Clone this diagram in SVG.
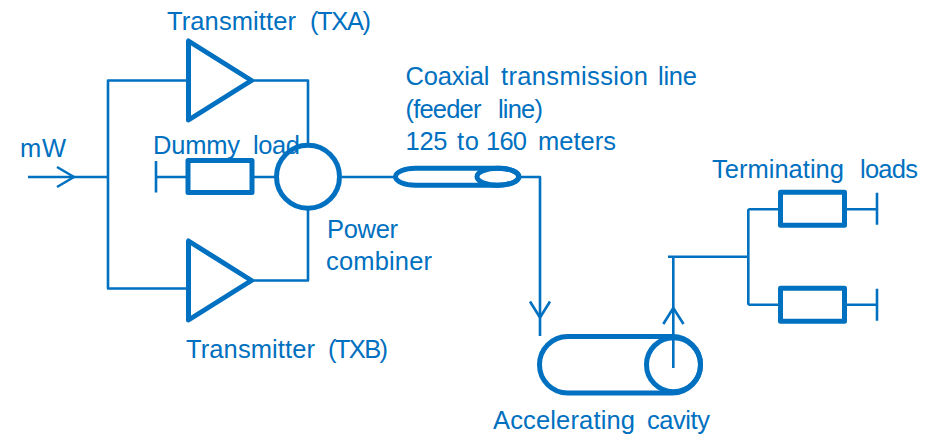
<svg xmlns="http://www.w3.org/2000/svg" width="927" height="435" viewBox="0 0 927 435">
<style>
text{font-family:"Liberation Sans",Arial,sans-serif;font-size:25.5px;fill:#0070C0}
.w{fill:none;stroke:#0070C0;stroke-width:2.6;stroke-linejoin:round}
.b{fill:none;stroke:#0070C0;stroke-width:5;stroke-linejoin:round}
</style>
<rect width="927" height="435" fill="#fff"/>
<g id="connectors">
<path class="w" d="M28 177H108M108 177V80.5H188M108 177V288.5H188"/>
<path class="w" d="M57 167L74 177L57 187"/>
<path class="w" d="M252 80.5H308V143M252 280.5H308V210"/>
<path class="w" d="M156 161V192.5M156 177H188M254 177H276"/>
<path class="w" d="M342 177H394M520 177H540V336"/>
<path class="w" d="M530 301.5L540 317.5L550 301.5"/>
<path class="w" d="M673.3 368V256.7M668 256.7H748.3M748.3 209.3V304.7M748.3 209.3H779M748.3 304.7H779"/>
<path class="w" d="M663.3 324L673.3 308L683.5 324"/>
<path class="w" d="M846 209.3H877M877 192.7V224.7M846 304.7H877M877 288.7V320.7"/>
</g>
<g id="txa"><path class="b" d="M188.5 41V120L251.5 80.5Z"/><text x="167" y="30" textLength="129">Transmitter</text><text x="310" y="30" textLength="61">(TXA)</text></g>
<g id="txb"><path class="b" d="M188.5 241V320L251.5 280.5Z"/><text x="186" y="357.5" textLength="129">Transmitter</text><text x="328" y="357.5" textLength="60">(TXB)</text></g>
<g id="dummy-load"><rect class="b" x="188" y="160.5" width="64" height="32"/><text x="153" y="154" textLength="87">Dummy</text><text x="253" y="154" textLength="47">load</text></g>
<g id="power-combiner"><circle class="b" cx="308" cy="176.7" r="31.5"/><text x="327" y="237.5" textLength="71">Power</text><text x="326" y="269.5" textLength="106">combiner</text></g>
<g id="coax"><rect class="b" x="395.5" y="168.2" width="123" height="17" rx="20" ry="8.5"/><ellipse class="b" cx="498" cy="176.7" rx="21" ry="8.5"/>
<text x="405.5" y="85" textLength="84">Coaxial</text><text x="501" y="85" textLength="147">transmission</text><text x="658" y="85" textLength="39">line</text>
<text x="405.5" y="117.5" textLength="76">(feeder</text><text x="498" y="117.5" textLength="45">line)</text>
<text x="405.5" y="149.5" textLength="42">125</text><text x="457" y="149.5" textLength="22">to</text><text x="486" y="149.5" textLength="41">160</text><text x="538" y="149.5" textLength="78">meters</text></g>
<g id="cavity"><rect class="b" x="539.5" y="336.5" width="161" height="56.5" rx="28.2"/><circle class="b" cx="673.5" cy="364.7" r="27"/><text x="493" y="429" textLength="142">Accelerating</text><text x="647" y="429" textLength="63">cavity</text></g>
<g id="load1"><rect class="b" x="780.5" y="192.3" width="64" height="33"/><text x="712" y="177.5" textLength="132">Terminating</text><text x="860" y="177.5" textLength="58">loads</text></g>
<g id="load2"><rect class="b" x="780.5" y="288.3" width="64" height="33"/></g>
<g id="input"><text x="20" y="157" textLength="46">mW</text></g>
</svg>
